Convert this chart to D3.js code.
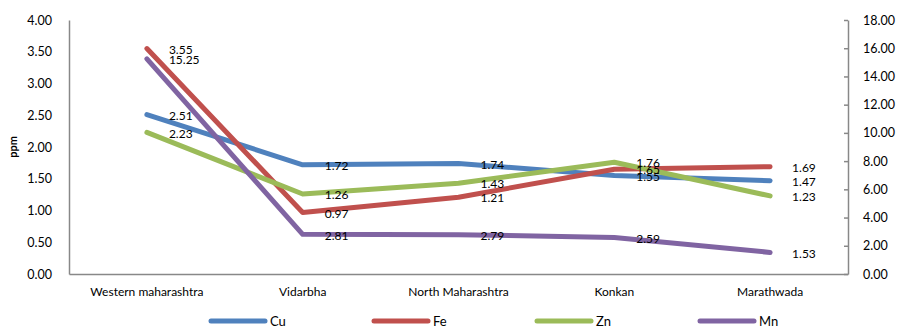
<!DOCTYPE html>
<html>
<head>
<meta charset="utf-8">
<script src="https://cdn.jsdelivr.net/npm/d3@7"></script>
<style>
  html, body { margin: 0; padding: 0; background: #fff; }
  svg text { font-family: Lato, "Open Sans", sans-serif; fill: #000; }
</style>
</head>
<body>
<svg id="chart" width="900" height="328"></svg>
<script>
// Regions (x categories)
const regions = ["Western maharashtra", "Vidarbha", "North Maharashtra", "Konkan", "Marathwada"];

// Micronutrient values (ppm); Cu, Fe, Zn on the left axis, Mn on the right axis
const cu = [2.51, 1.72, 1.74, 1.55, 1.47];
const fe = [3.55, 0.97, 1.21, 1.65, 1.69];
const zn = [2.23, 1.26, 1.43, 1.76, 1.23];
const mn = [15.25, 2.81, 2.79, 2.59, 1.53];

// Axis ticks
const leftTicks = [0, 0.5, 1, 1.5, 2, 2.5, 3, 3.5, 4];
const rightTicks = [0, 2, 4, 6, 8, 10, 12, 14, 16, 18];

const series = [
  { name: "Cu", values: cu, color: "#4F81BD", axis: "left" },
  { name: "Fe", values: fe, color: "#C0504D", axis: "left" },
  { name: "Zn", values: zn, color: "#9BBB59", axis: "left" },
  { name: "Mn", values: mn, color: "#8064A2", axis: "right" }
];

const svg = d3.select("#chart");
const m = { left: 69, right: 848, top: 20, bottom: 274 };

const x = d3.scaleBand().domain(regions).range([m.left, m.right]);
const yL = d3.scaleLinear().domain([0, 4]).range([m.bottom, m.top]);
const yR = d3.scaleLinear().domain([0, 18]).range([m.bottom, m.top]);
const cx = d => x(d) + x.bandwidth() / 2;

const axisColor = "#888";

// Left axis
const gL = svg.append("g").attr("transform", `translate(${m.left},0)`)
  .call(d3.axisLeft(yL).tickValues(leftTicks).tickSize(0).tickPadding(17).tickFormat(d3.format(".2f")));
gL.select(".domain").attr("stroke", axisColor).attr("stroke-width", 1.5);
gL.selectAll("text").attr("font-size", 12.5);

// Right axis
const gR = svg.append("g").attr("transform", `translate(${m.right},0)`)
  .call(d3.axisRight(yR).tickValues(rightTicks).tickSizeInner(4).tickSizeOuter(0).tickPadding(11).tickFormat(d3.format(".2f")));
gR.select(".domain").attr("stroke", axisColor).attr("stroke-width", 1.5);
gR.selectAll(".tick line").attr("stroke", axisColor).attr("stroke-width", 1.5).attr("x1", -4).attr("x2", 0);
gR.selectAll("text").attr("font-size", 12.5);

// Bottom axis
const gB = svg.append("g").attr("transform", `translate(0,${m.bottom})`)
  .call(d3.axisBottom(x).tickSize(0).tickPadding(13).tickSizeOuter(0));
gB.select(".domain").attr("stroke", axisColor).attr("stroke-width", 1.5);
gB.selectAll("text").attr("font-size", 12);

// Y-axis title
svg.append("text")
  .attr("transform", `translate(17,${(m.top + m.bottom) / 2}) rotate(-90)`)
  .attr("text-anchor", "middle")
  .attr("font-size", 11)
  .attr("font-weight", "bold")
  .text("ppm");

// Lines
series.forEach(s => {
  const y = s.axis === "left" ? yL : yR;
  const line = d3.line().x((d, i) => cx(regions[i])).y(d => y(d));
  svg.append("path")
    .datum(s.values)
    .attr("fill", "none")
    .attr("stroke", s.color)
    .attr("stroke-width", 5)
    .attr("stroke-linejoin", "round")
    .attr("stroke-linecap", "round")
    .attr("d", line);
});

// Data labels, placed to the right of each point
series.forEach(s => {
  const y = s.axis === "left" ? yL : yR;
  svg.append("g").selectAll("text")
    .data(s.values)
    .join("text")
    .attr("x", (d, i) => cx(regions[i]) + 22)
    .attr("y", d => y(d) + 1)
    .attr("dy", "0.35em")
    .attr("font-size", 12)
    .text(d => d3.format(".2f")(d));
});

// Legend
const legendX = [211, 374, 537, 700];
const legend = svg.append("g");
series.forEach((s, i) => {
  legend.append("line")
    .attr("x1", legendX[i]).attr("x2", legendX[i] + 54)
    .attr("y1", 321).attr("y2", 321)
    .attr("stroke", s.color).attr("stroke-width", 5).attr("stroke-linecap", "round");
  legend.append("text")
    .attr("x", legendX[i] + 59).attr("y", 321).attr("dy", "0.38em")
    .attr("font-size", 13)
    .text(s.name);
});
</script>
</body>
</html>
